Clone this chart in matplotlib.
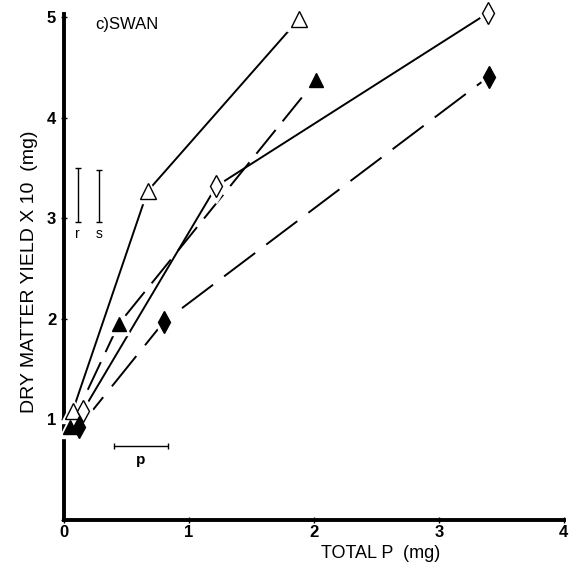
import numpy as np
import matplotlib.pyplot as plt

plt.rcParams['font.family'] = ['Liberation Sans', 'DejaVu Sans']
plt.rcParams['lines.scale_dashes'] = False

# open triangles
p_open_tri = [0.07, 0.67, 1.88]
y_open_tri = [1.08, 3.27, 4.98]
# filled triangles
p_fill_tri = [0.05, 0.44, 2.02]
y_fill_tri = [0.92, 1.95, 4.38]
# open diamonds
p_open_dia = [0.15, 1.22, 3.39]
y_open_dia = [1.08, 3.32, 5.04]
# filled diamonds
p_fill_dia = [0.12, 0.80, 3.40]
y_fill_dia = [0.92, 1.97, 4.41]

# LSD bars
bar_r = (0.11, 2.96, 3.50)
bar_s = (0.28, 2.96, 3.48)
bar_p = (0.40, 0.83, 0.74)

fig = plt.figure(figsize=(5.8, 5.72), dpi=100)
ax = fig.add_axes([0.110, 0.091, 0.862, 0.884])

series = [
    (p_open_tri, y_open_tri, '^', 'white', 11, '-'),
    (p_fill_tri, y_fill_tri, '^', 'black', 10, (0, (22, 8))),
    (p_open_dia, y_open_dia, 'd', 'white', 11, '-'),
    (p_fill_dia, y_fill_dia, 'd', 'black', 11, (0, (28, 10))),
]
for px, py, mk, fc, ms, ls in series:
    ax.plot(px, py, color='black', lw=1.4, ls=ls, zorder=2)
    # white halo leaves a small gap between line and marker
    ax.plot(px, py, ls='none', marker=mk, ms=ms + 6, mfc='white', mec='white',
            zorder=3, clip_on=False)
    ax.plot(px, py, ls='none', marker=mk, ms=ms, mfc=fc, mec='black', mew=1.0,
            zorder=4, clip_on=False)

# error bars
for bx, lo, hi in [bar_r, bar_s]:
    ax.errorbar([bx], [(lo + hi) / 2], yerr=[(hi - lo) / 2], color='black',
                lw=1.0, capsize=2, capthick=1.0, zorder=2)
ax.errorbar([(bar_p[0] + bar_p[1]) / 2], [bar_p[2]], xerr=[(bar_p[1] - bar_p[0]) / 2],
            color='black', lw=1.0, capsize=2, capthick=1.0, zorder=2)
ax.text(bar_r[0], bar_r[1] - 0.05, 'r', ha='center', va='top', fontsize=10)
ax.text(bar_s[0], bar_s[1] - 0.05, 's', ha='center', va='top', fontsize=10)
ax.text((bar_p[0] + bar_p[1]) / 2, bar_p[2] - 0.07, 'p', ha='center', va='top',
        fontsize=11, fontweight='bold')

ax.text(0.25, 4.93, 'c)SWAN', ha='left', va='center', fontsize=12)

ax.set_xlim(0, 4.0)
ax.set_ylim(0, 5.03)
ax.set_xticks([0, 1, 2, 3, 4])
ax.set_xticklabels(['0', '1', '2', '3', '4'])
ax.set_yticks([0, 1, 2, 3, 4, 5])
ax.set_yticklabels(['', '1', '2', '3', '4', '5'])
ax.tick_params(direction='inout', length=5, width=1, labelsize=12, pad=3)
ax.tick_params(axis='x', pad=1)
for lab in ax.get_xticklabels() + ax.get_yticklabels():
    lab.set_fontweight('bold')

for side in ['top', 'right']:
    ax.spines[side].set_visible(False)
for side in ['left', 'bottom']:
    ax.spines[side].set_linewidth(2.8)

ax.set_xlabel('TOTAL P  (mg)', fontsize=13)
ax.xaxis.set_label_coords(0.633, -0.05)
ax.set_ylabel('DRY MATTER YIELD X 10  (mg)', fontsize=14)
ax.yaxis.set_label_coords(-0.052, 0.49)

fig.savefig('out.png', dpi=100)
